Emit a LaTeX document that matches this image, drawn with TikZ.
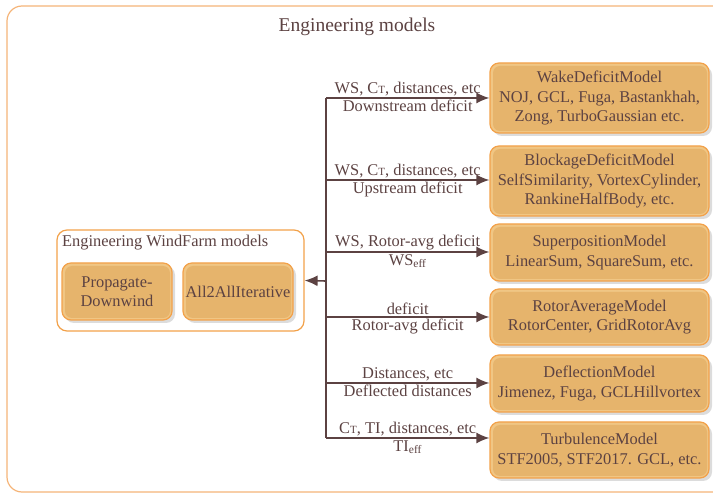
\documentclass[tikz,border=0pt]{standalone}
\usepackage{fontspec}
\setmainfont{Liberation Serif}
\usetikzlibrary{arrows.meta,shadows}
\definecolor{boxfill}{HTML}{E6B46C}
\definecolor{boxrim}{HTML}{F0C684}
\definecolor{boxline}{HTML}{F2A14A}
\definecolor{frameline}{HTML}{F5B478}
\definecolor{ink}{HTML}{5C4242}
\newcommand{\CT}{C{\fontsize{11}{12}\selectfont T}}
\tikzset{
  model/.style={draw=boxline, line width=1.2pt, fill=boxrim, rounded corners=9pt,
    minimum width=219pt, align=center, text=ink, inner sep=0pt,
    path picture={\fill[boxfill, rounded corners=7pt]
      ([shift={(3pt,-3pt)}]path picture bounding box.north west) rectangle
      ([shift={(-2pt,2pt)}]path picture bounding box.south east);},
    drop shadow={shadow xshift=3pt, shadow yshift=-3pt, fill=gray!55}},
  algo/.style={model, minimum width=110pt, minimum height=57pt},
  lbl/.style={text=ink, inner sep=1.5pt},
  flow/.style={draw=ink, line width=1.6pt},
}
\begin{document}
\begin{tikzpicture}[x=1pt, y=-1pt, >={Latex[length=13pt,width=11pt]}, font=\fontsize{16.4}{19.5}\selectfont]
\clip (0,0) rectangle (713,494);
\draw[frameline, line width=1.2pt, rounded corners=15pt] (7,6) rectangle (730,492);
\node[text=ink, font=\fontsize{19.5}{22}\selectfont] (title) at (357,27) {Engineering models};

% sub models
\node[model, minimum height=70pt] (wake) at (599.5,98) {WakeDeficitModel\\ NOJ, GCL, Fuga, Bastankhah,\\ Zong, TurboGaussian etc.};
\node[model, minimum height=70pt] (block) at (599.5,181) {BlockageDeficitModel\\ SelfSimilarity, VortexCylinder,\\ RankineHalfBody, etc.};
\node[model, minimum height=57pt] (super) at (599.5,252.5) {SuperpositionModel\\ LinearSum, SquareSum, etc.};
\node[model, minimum height=56pt] (rotor) at (599.5,317) {RotorAverageModel\\ RotorCenter, GridRotorAvg};
\node[model, minimum height=57pt] (defl) at (599.5,383.5) {DeflectionModel\\ Jimenez, Fuga, GCLHillvortex};
\node[model, minimum height=56pt] (turb) at (599.5,450) {TurbulenceModel\\ STF2005, STF2017. GCL, etc.};

% wind farm models
\node[draw=boxline, line width=1.2pt, rounded corners=10pt, minimum width=247pt, minimum height=101pt] (farm) at (180.5,280.5) {};
\node[lbl, anchor=west] (farmlbl) at (60.5,243) {Engineering WindFarm models};
\node[algo] (prop) at (117,291.5) {Propagate-\\ Downwind};
\node[algo] (a2a) at (238,291.5) {All2AllIterative};

\coordinate (b1) at (326,98);
\coordinate (b2) at (326,180);
\coordinate (b3) at (326,252);
\coordinate (b4) at (326,317);
\coordinate (b5) at (326,383);
\coordinate (b6) at (326,438);
\coordinate (bm) at (326,281);

\draw[flow] (b1) -- (b6);
\draw[flow,->] (bm) -- (farm.east);
\draw[flow,->] (b1) -- (b1 -| wake.west) node[midway, above, lbl] {WS, \CT, distances, etc} node[midway, below, lbl] {Downstream deficit};
\draw[flow,->] (b2) -- (b2 -| block.west) node[midway, above, lbl] {WS, \CT, distances, etc} node[midway, below, lbl] {Upstream deficit};
\draw[flow,->] (b3) -- (b3 -| super.west) node[midway, above, lbl] {WS, Rotor-avg deficit} node[midway, below, lbl] {WS\textsubscript{eff}};
\draw[flow,->] (b4) -- (b4 -| rotor.west) node[midway, above, lbl] {deficit} node[midway, below, lbl] {Rotor-avg deficit};
\draw[flow,->] (b5) -- (b5 -| defl.west) node[midway, above, lbl] {Distances, etc} node[midway, below, lbl] {Deflected distances};
\draw[flow,->] (b6) -- (b6 -| turb.west) node[midway, above, lbl] {\CT, TI, distances, etc} node[midway, below, lbl] {TI\textsubscript{eff}};
\end{tikzpicture}
\end{document}
